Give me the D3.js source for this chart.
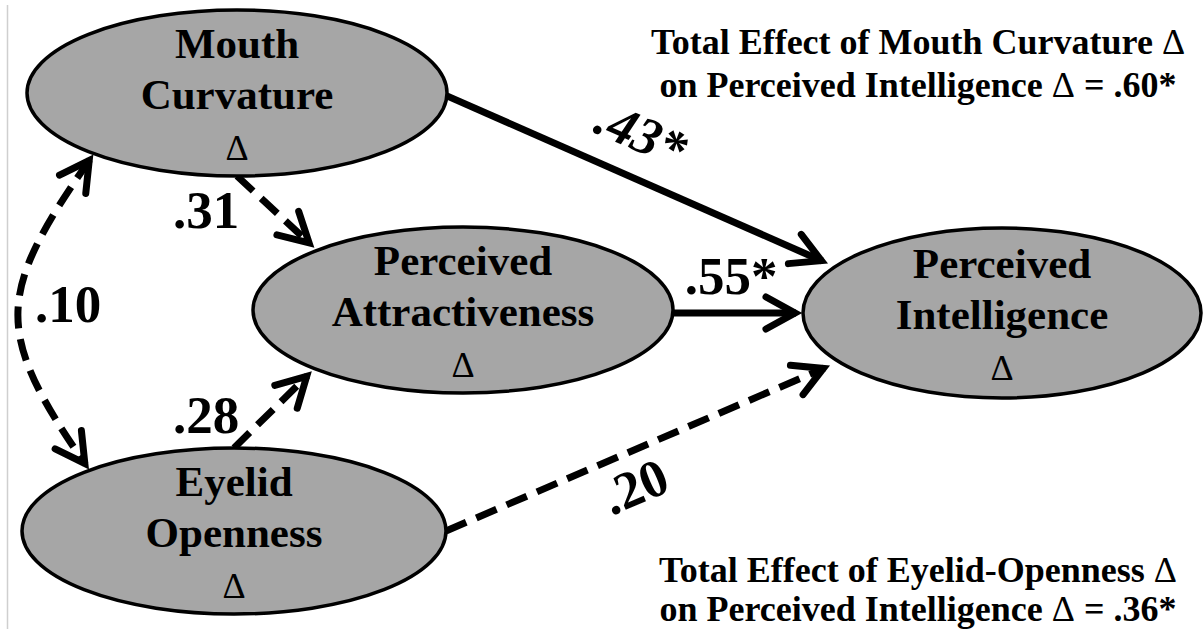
<!DOCTYPE html>
<meta charset="utf-8">
<style>

body {
  margin: 0;
  background: #fff;
}

.node ellipse {
  fill: #a6a6a6;
  stroke: #000;
  stroke-width: 3.5px;
}

.link {
  fill: none;
  stroke: #000;
  stroke-width: 7px;
}

.link.dashed {
  stroke-dasharray: 22,11;
}

</style>
<body>
<script src="https://cdn.jsdelivr.net/npm/d3@7"></script>
<script>

var w = 1203,
    h = 629,
    serif = "'Liberation Serif'";

// model: variables, direct paths, covariance, total effects
var nodeNames = ["Mouth Curvature", "Perceived Attractiveness", "Eyelid Openness", "Perceived Intelligence"];
var pathFrom = ["Mouth Curvature", "Mouth Curvature", "Perceived Attractiveness", "Eyelid Openness", "Eyelid Openness"];
var pathTo = ["Perceived Intelligence", "Perceived Attractiveness", "Perceived Intelligence", "Perceived Attractiveness", "Perceived Intelligence"];
var pathCoef = [".43", ".31", ".55", ".28", ".20"];
var pathSig = [true, false, true, false, false];
var covPair = ["Mouth Curvature", "Eyelid Openness"];
var covCoef = ".10";
var totalFrom = ["Mouth Curvature", "Eyelid-Openness"];
var totalTo = "Perceived Intelligence";
var totalCoef = [".60", ".36"];

// layout of the diagram (pixels)
var nodeLayout = {
  "Mouth Curvature":          {cx: 237,  cy: 93,  rx: 210, ry: 83},
  "Perceived Attractiveness": {cx: 463,  cy: 310, rx: 210, ry: 83},
  "Eyelid Openness":          {cx: 234,  cy: 531, rx: 212, ry: 83},
  "Perceived Intelligence":   {cx: 1002, cy: 313, rx: 199, ry: 85}
};
// anchor angles on source / target ellipse, gap before tip, label spot
var pathLayout = [
  {a0: 2,  a1: 213, gap: 8, lx: 634, ly: 150, rotate: true, italic: true},
  {a0: 90, a1: 226, gap: 4, lx: 206, ly: 228},
  {a0: 2,  a1: 180, gap: 1, lx: 731, ly: 294},
  {a0: 270, a1: 135, gap: 4, lx: 206, ly: 433},
  {a0: 0,  a1: 145, gap: 10, lx: 642, ly: 503, rotate: true}
];
var covLayout = {a0: 133, a1: 227, k: 170, lx: 68, ly: 322};
var noteLayout = [{x: 918, y: 54, dy: 43}, {x: 918, y: 582, dy: 39}];

var svg = d3.select("body").append("svg")
    .attr("width", w)
    .attr("height", h);

// thin rule at the left edge
svg.append("line")
    .attr("x1", 7.5).attr("x2", 7.5)
    .attr("y1", 5).attr("y2", h)
    .style("stroke", "#cfcfcf")
    .style("stroke-width", 1.5);

var defs = svg.append("defs");
defs.append("marker")
    .attr("id", "arrow")
    .attr("markerUnits", "userSpaceOnUse")
    .attr("viewBox", "-45 -25 50 50")
    .attr("markerWidth", 50)
    .attr("markerHeight", 50)
    .attr("refX", -6)
    .attr("refY", 0)
    .attr("orient", "auto-start-reverse")
  .append("path")
    .attr("d", "M-36,-16L-7,0L-36,16")
    .style("fill", "none")
    .style("stroke", "#000")
    .style("stroke-width", 7)
    .style("stroke-linecap", "round")
    .style("stroke-linejoin", "miter");

function onEllipse(n, deg) {
  var t = deg * Math.PI / 180;
  return [n.cx + n.rx * Math.cos(t), n.cy + n.ry * Math.sin(t)];
}

var line = d3.line();

// direct paths
var paths = pathFrom.map(function(f, i) {
  var L = pathLayout[i],
      s = onEllipse(nodeLayout[f], L.a0),
      e = onEllipse(nodeLayout[pathTo[i]], L.a1),
      dx = e[0] - s[0], dy = e[1] - s[1],
      len = Math.sqrt(dx * dx + dy * dy),
      ux = dx / len, uy = dy / len,
      back = L.gap + 6;
  return {
    pts: [s, [e[0] - ux * back, e[1] - uy * back]],
    angle: Math.atan2(dy, dx) * 180 / Math.PI,
    coef: pathCoef[i] + (pathSig[i] ? "*" : ""),
    sig: pathSig[i],
    layout: L
  };
});

svg.selectAll("path.direct")
    .data(paths)
  .enter().append("path")
    .attr("class", function(d) { return "link direct" + (d.sig ? "" : " dashed"); })
    .attr("d", function(d) { return line(d.pts); })
    .attr("marker-end", "url(#arrow)");

// covariance curve, arrows at both ends
var cs = onEllipse(nodeLayout[covPair[0]], covLayout.a0),
    ce = onEllipse(nodeLayout[covPair[1]], covLayout.a1),
    k = covLayout.k,
    cp = d3.path();
cp.moveTo(cs[0] - 4, cs[1] + 6);
cp.bezierCurveTo(cs[0] - 0.57 * k, cs[1] + 0.82 * k,
                 ce[0] - 0.57 * k, ce[1] - 0.82 * k,
                 ce[0] - 4, ce[1] - 6);
svg.append("path")
    .attr("class", "link dashed")
    .attr("d", cp.toString())
    .attr("marker-start", "url(#arrow)")
    .attr("marker-end", "url(#arrow)");

// nodes
var node = svg.selectAll("g.node")
    .data(nodeNames)
  .enter().append("g")
    .attr("class", "node")
    .attr("transform", function(d) { var n = nodeLayout[d]; return "translate(" + n.cx + "," + n.cy + ")"; });

node.append("ellipse")
    .attr("rx", function(d) { return nodeLayout[d].rx; })
    .attr("ry", function(d) { return nodeLayout[d].ry; });

node.selectAll("text.name")
    .data(function(d) { return d.split(" "); })
  .enter().append("text")
    .attr("class", "name")
    .attr("text-anchor", "middle")
    .attr("y", function(d, i) { return -35 + i * 51; })
    .style("font-family", serif)
    .style("font-weight", "bold")
    .style("font-size", "43px")
    .text(function(d) { return d; });

node.append("text")
    .attr("class", "delta")
    .attr("text-anchor", "middle")
    .attr("y", 67)
    .style("font-family", serif)
    .style("font-size", "36px")
    .text("\u0394");

// coefficients
svg.selectAll("text.coef.direct")
    .data(paths)
  .enter().append("text")
    .attr("class", "coef direct")
    .attr("text-anchor", "middle")
    .style("font-family", serif)
    .style("font-weight", "bold")
    .style("font-size", "53px")
    .style("font-style", function(d) { return d.layout.italic ? "italic" : null; })
    .attr("transform", function(d) {
      return "translate(" + d.layout.lx + "," + d.layout.ly + ")" +
        (d.layout.rotate ? "rotate(" + d.angle + ")" : "");
    })
    .text(function(d) { return d.coef; });

svg.append("text")
    .attr("class", "coef")
    .attr("text-anchor", "middle")
    .attr("x", covLayout.lx)
    .attr("y", covLayout.ly)
    .style("font-family", serif)
    .style("font-weight", "bold")
    .style("font-size", "53px")
    .text(covCoef);

// total effect notes
var note = svg.selectAll("g.note")
    .data(totalFrom)
  .enter().append("g")
    .attr("class", "note")
    .attr("transform", function(d, i) { return "translate(" + noteLayout[i].x + "," + noteLayout[i].y + ")"; });

note.append("text")
    .attr("text-anchor", "middle")
    .style("font-family", serif)
    .style("font-weight", "bold")
    .style("font-size", "36px")
    .call(function(t) {
      t.append("tspan").text(function(d) { return "Total Effect of " + d + " "; });
      t.append("tspan").style("font-weight", "normal").text("\u0394");
    });

note.append("text")
    .attr("text-anchor", "middle")
    .attr("y", function(d, i) { return noteLayout[i].dy; })
    .style("font-family", serif)
    .style("font-weight", "bold")
    .style("font-size", "36px")
    .call(function(t) {
      t.append("tspan").text("on " + totalTo + " ");
      t.append("tspan").style("font-weight", "normal").text("\u0394");
      t.append("tspan").text(function(d, i) { return " = " + totalCoef[i] + "*"; });
    });

</script>
</body>
